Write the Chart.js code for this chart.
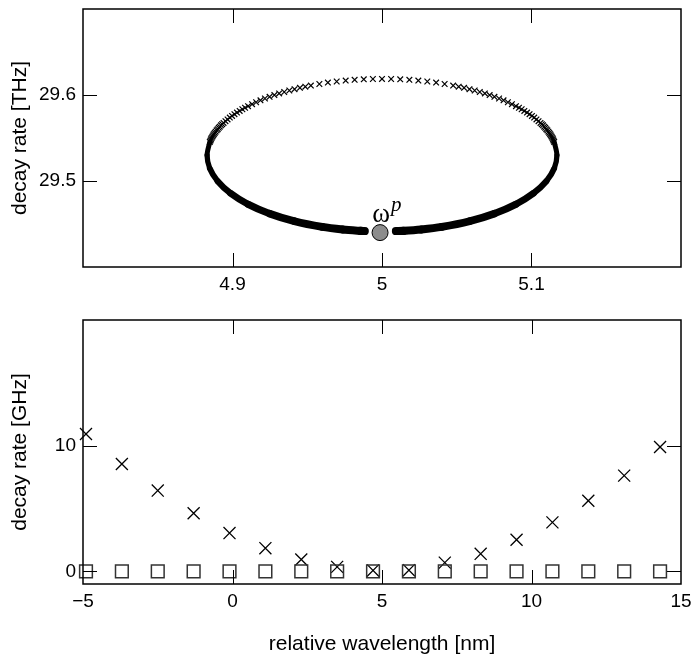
<!DOCTYPE html>
<html>
<head>
<meta charset="utf-8">
<script src="https://cdn.jsdelivr.net/npm/chart.js@4/dist/chart.umd.min.js"></script>
<style>
  html, body { margin: 0; padding: 0; background: #fff; }
  #topBox { position: absolute; left: 0; top: 0; }
  #bottomBox { position: absolute; left: 0; top: 300px; }
</style>
</head>
<body>
<div id="topBox"><canvas id="topChart" width="693" height="300"></canvas></div>
<div id="bottomBox"><canvas id="bottomChart" width="693" height="358"></canvas></div>
<script>
// Upper panel: eigenvalue trajectory, sparse x markers over the top of the loop
const orbitX = [
  4.8848, 4.8852, 4.8856, 4.8860, 4.8865, 4.8870, 4.8875, 4.8881, 4.8887, 4.8894,
  4.8901, 4.8908, 4.8915, 4.8923, 4.8931, 4.8940, 4.8953, 4.8967, 4.8982, 4.8997,
  4.9013, 4.9030, 4.9048, 4.9066, 4.9084, 4.9104, 4.9131, 4.9158, 4.9187, 4.9217,
  4.9248, 4.9280, 4.9312, 4.9346, 4.9380, 4.9415, 4.9451, 4.9487, 4.9524, 4.9581,
  4.9638, 4.9697, 4.9757, 4.9817, 4.9878, 4.9939, 5.0000,
  5.0061, 5.0122, 5.0183, 5.0243, 5.0303, 5.0362, 5.0419, 5.0476, 5.0513, 5.0549,
  5.0585, 5.0620, 5.0654, 5.0688, 5.0720, 5.0752, 5.0783, 5.0813, 5.0842, 5.0869,
  5.0896, 5.0916, 5.0934, 5.0952, 5.0970, 5.0987, 5.1003, 5.1018, 5.1033, 5.1047,
  5.1060, 5.1069, 5.1077, 5.1085, 5.1092, 5.1099, 5.1106, 5.1113, 5.1119, 5.1125,
  5.1130, 5.1135, 5.1140, 5.1144, 5.1148, 5.1152
];
const orbitY = [
  29.5454, 29.5469, 29.5484, 29.5500, 29.5515, 29.5530, 29.5544, 29.5559, 29.5574, 29.5589,
  29.5603, 29.5618, 29.5632, 29.5647, 29.5661, 29.5675, 29.5696, 29.5716, 29.5737, 29.5757,
  29.5777, 29.5796, 29.5815, 29.5834, 29.5852, 29.5870, 29.5893, 29.5916, 29.5938, 29.5959,
  29.5979, 29.5999, 29.6018, 29.6035, 29.6052, 29.6068, 29.6083, 29.6097, 29.6110, 29.6128,
  29.6144, 29.6157, 29.6168, 29.6176, 29.6182, 29.6186, 29.6187,
  29.6186, 29.6182, 29.6176, 29.6168, 29.6157, 29.6144, 29.6128, 29.6110, 29.6097, 29.6083,
  29.6068, 29.6052, 29.6035, 29.6018, 29.5999, 29.5979, 29.5959, 29.5938, 29.5916, 29.5893,
  29.5870, 29.5852, 29.5834, 29.5815, 29.5796, 29.5777, 29.5757, 29.5737, 29.5716, 29.5696,
  29.5675, 29.5661, 29.5647, 29.5632, 29.5618, 29.5603, 29.5589, 29.5574, 29.5559, 29.5544,
  29.5530, 29.5515, 29.5500, 29.5484, 29.5469, 29.5454
];

// dense (overlapping) markers along the lower part, left and right of the pole
const bandLeftX = [4.8848, 4.8830, 4.8848, 4.8901, 4.8987, 4.9104, 4.9248, 4.9415, 4.9600, 4.9737, 4.9857, 4.9885];
const bandLeftY = [29.5454, 29.5300, 29.5146, 29.4997, 29.4857, 29.4730, 29.4621, 29.4532, 29.4466, 29.4436, 29.4420, 29.4418];
const bandRightX = [5.0093, 5.0143, 5.0263, 5.0400, 5.0585, 5.0752, 5.0896, 5.1013, 5.1099, 5.1152, 5.1170, 5.1152];
const bandRightY = [29.4418, 29.4420, 29.4436, 29.4466, 29.4532, 29.4621, 29.4730, 29.4857, 29.4997, 29.5146, 29.5300, 29.5454];

const poleX = [4.9987];
const poleY = [29.440];

const topXTicks = [4.9, 5, 5.1];
const topYTicks = [29.5, 29.6];

// Lower panel
const wavelength = [-4.9, -3.7, -2.5, -1.3, -0.1, 1.1, 2.3, 3.5, 4.7, 5.9, 7.1, 8.3, 9.5, 10.7, 11.9, 13.1, 14.3];
const rateCross = [10.93, 8.55, 6.43, 4.63, 3.05, 1.85, 0.95, 0.36, 0.08, 0.1, 0.7, 1.4, 2.52, 3.9, 5.62, 7.62, 9.9];
const rateSquare = [0, 0, 0, 0, 0, 0, 0, 0, 0, 0, 0, 0, 0, 0, 0, 0, 0];

const bottomXTicks = [-5, 0, 5, 10, 15];
const bottomYTicks = [0, 10];

const pairs = (xs, ys) => xs.map((x, i) => ({ x: x, y: ys[i] }));
const fmt = v => (v < 0 ? '\u2212' + (-v) : String(v));

Chart.defaults.font.family = '"Liberation Sans", Arial, sans-serif';
Chart.defaults.color = '#000';

const tickFont = { size: 19 };
const titleFont = { size: 21 };

// Box frame plus inward tick marks on all four sides
const frameTicks = {
  id: 'frameTicks',
  afterDatasetsDraw(chart, args, opts) {
    const { ctx, chartArea: a, scales: { x, y } } = chart;
    const len = 14;
    ctx.save();
    ctx.strokeStyle = '#000';
    ctx.lineWidth = 1;
    ctx.beginPath();
    opts.xTicks.forEach(v => {
      if (v <= x.min || v >= x.max) return;
      const px = Math.round(x.getPixelForValue(v)) + 0.5;
      ctx.moveTo(px, a.bottom); ctx.lineTo(px, a.bottom - len);
      ctx.moveTo(px, a.top); ctx.lineTo(px, a.top + len);
    });
    opts.yTicks.forEach(v => {
      if (v <= y.min || v >= y.max) return;
      const py = Math.round(y.getPixelForValue(v)) + 0.5;
      ctx.moveTo(a.left, py); ctx.lineTo(a.left + len, py);
      ctx.moveTo(a.right, py); ctx.lineTo(a.right - len, py);
    });
    ctx.stroke();
    ctx.lineWidth = 1.5;
    ctx.strokeRect(a.left, a.top, a.right - a.left, a.bottom - a.top);
    ctx.restore();
  }
};

// omega^p label next to the pole marker
const poleLabel = {
  id: 'poleLabel',
  afterDatasetsDraw(chart) {
    const { ctx, scales: { x, y } } = chart;
    const px = x.getPixelForValue(poleX[0]);
    const py = y.getPixelForValue(poleY[0]);
    ctx.save();
    ctx.fillStyle = '#000';
    ctx.textAlign = 'center';
    ctx.textBaseline = 'alphabetic';
    ctx.font = '27px "Liberation Serif", "Times New Roman", serif';
    ctx.fillText('\u03c9', px + 1, py - 11);
    ctx.textAlign = 'left';
    ctx.font = 'italic 21px "Liberation Serif", "Times New Roman", serif';
    ctx.fillText('p', px + 11, py - 22);
    ctx.restore();
  }
};

const bandWidth = c => {
  const yMid = (c.p0.parsed.y + c.p1.parsed.y) / 2;
  return 5 + Math.max(0, 29.53 - yMid) * 35;
};

function axisX(min, max, ticks, height) {
  return {
    type: 'linear', min: min, max: max,
    grid: { display: false, drawTicks: false }, border: { display: false },
    afterBuildTicks: s => { s.ticks = ticks.map(v => ({ value: v })); },
    afterFit: s => { s.height = height; s.paddingLeft = 0; s.paddingRight = 0; },
    ticks: { font: tickFont, padding: 6, maxRotation: 0, callback: fmt }
  };
}

function axisY(min, max, ticks, title) {
  return {
    type: 'linear', min: min, max: max,
    grid: { display: false, drawTicks: false }, border: { display: false },
    afterBuildTicks: s => { s.ticks = ticks.map(v => ({ value: v })); },
    afterFit: s => { s.width = 83; s.paddingTop = 0; s.paddingBottom = 0; },
    ticks: { font: tickFont, padding: 7, callback: fmt },
    title: { display: true, text: title, font: titleFont, padding: { top: 8, bottom: 0 } }
  };
}

new Chart(document.getElementById('topChart'), {
  type: 'scatter',
  data: {
    datasets: [
      {
        data: pairs(bandLeftX, bandLeftY), showLine: true, pointRadius: 0,
        borderColor: '#000', tension: 0.3, borderCapStyle: 'round',
        segment: { borderWidth: bandWidth }
      },
      {
        data: pairs(bandRightX, bandRightY), showLine: true, pointRadius: 0,
        borderColor: '#000', tension: 0.3, borderCapStyle: 'round',
        segment: { borderWidth: bandWidth }
      },
      {
        data: pairs(orbitX, orbitY), pointStyle: 'crossRot', pointRadius: 4,
        borderColor: '#000', borderWidth: 1.2
      },
      {
        data: pairs(poleX, poleY), pointRadius: 8, pointStyle: 'circle',
        backgroundColor: '#8c8c8c', borderColor: '#000', borderWidth: 1
      }
    ]
  },
  options: {
    responsive: false,
    animation: false,
    events: [],
    layout: { padding: { top: 4, right: 12, left: 0, bottom: 0 } },
    plugins: {
      legend: { display: false },
      tooltip: { enabled: false },
      frameTicks: { xTicks: topXTicks, yTicks: topYTicks }
    },
    scales: {
      x: axisX(4.8, 5.2, topXTicks, 33),
      y: axisY(29.4, 29.7, topYTicks, 'decay rate [THz]')
    }
  },
  plugins: [frameTicks, poleLabel]
});

const bottomX = axisX(-5, 15, bottomXTicks, 74);
bottomX.title = { display: true, text: 'relative wavelength [nm]', font: titleFont, padding: { top: 0, bottom: 1 } };

new Chart(document.getElementById('bottomChart'), {
  type: 'scatter',
  data: {
    datasets: [
      {
        data: pairs(wavelength, rateSquare), pointStyle: 'rect', pointRadius: 9,
        backgroundColor: 'rgba(0,0,0,0)', borderColor: '#333', borderWidth: 1.5, clip: false
      },
      {
        data: pairs(wavelength, rateCross), pointStyle: 'crossRot', pointRadius: 8.5,
        borderColor: '#000', borderWidth: 1.3, clip: false
      }
    ]
  },
  options: {
    responsive: false,
    animation: false,
    events: [],
    layout: { padding: { top: 20, right: 12, left: 0, bottom: 0 } },
    plugins: {
      legend: { display: false },
      tooltip: { enabled: false },
      frameTicks: { xTicks: bottomXTicks, yTicks: bottomYTicks }
    },
    scales: {
      x: bottomX,
      y: axisY(-1, 20, bottomYTicks, 'decay rate [GHz]')
    }
  },
  plugins: [frameTicks]
});
</script>
</body>
</html>
